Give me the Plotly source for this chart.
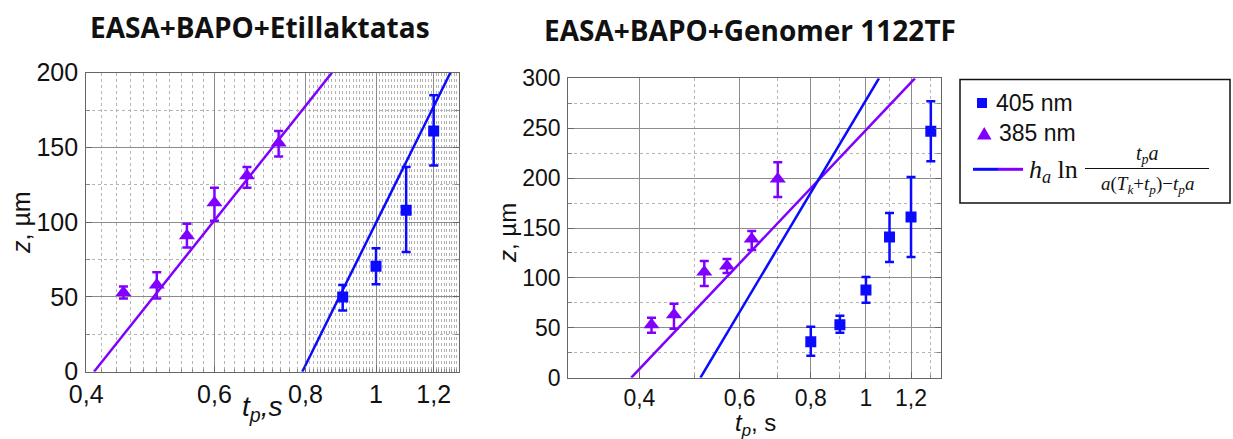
import plotly.graph_objects as go
import math

# ---------------- data ----------------
# Left panel: EASA+BAPO+Etillaktatas
L_tri_t = [0.45, 0.50, 0.55, 0.60, 0.665, 0.735]
L_tri_z = [53, 58, 91, 113, 131, 153]
L_tri_ep = [4, 8.5, 8, 10, 6, 8]
L_tri_em = [4, 9, 8, 12, 8, 9]

L_sq_t = [0.9, 1.0, 1.1, 1.2]
L_sq_z = [50, 70.5, 108, 161]
L_sq_ep = [8, 12, 29, 24]
L_sq_em = [9, 12, 28, 23]

L_fit385_t = [0.41, 0.87]
L_fit385_z = [0, 200]
L_fit405_t = [0.792, 1.265]
L_fit405_z = [0, 200]

# Right panel: EASA+BAPO+Genomer 1122TF
R_tri_t = [0.42, 0.46, 0.52, 0.57, 0.63, 0.70]
R_tri_z = [53, 63, 106, 112, 139, 199]
R_tri_ep = [7, 11, 11, 7, 8, 17]
R_tri_em = [8, 14, 14, 7, 11, 18]

R_sq_t = [0.8, 0.9, 1.0, 1.1, 1.2, 1.3]
R_sq_z = [36, 53, 88, 141, 161, 247]
R_sq_ep = [15, 9, 13, 24, 40, 30]
R_sq_em = [14, 8, 13, 25, 40, 30]

R_fit385_t = [0.387, 1.219]
R_fit385_z = [0, 300]
R_fit405_t = [0.512, 1.054]
R_fit405_z = [0, 300]

x_tickvals = [0.4, 0.6, 0.8, 1.0, 1.2]
x_ticktext = ["0,4", "0,6", "0,8", "1", "1,2"]
L_minor_x = [round(0.42 + 0.02 * i, 2) for i in range(19)] + [round(0.81 + 0.01 * i, 2) for i in range(49)]
L_minor_x = [v for v in L_minor_x if v not in (0.6, 0.8, 1.0, 1.2)]
R_minor_x = [0.3, 0.5, 0.7, 0.9, 1.1, 1.3]

BLUE = "#0a0aff"
PURPLE = "#8000ff"

W, H = 1233, 439
def px(x):
    return x / W
def py(y):
    return 1 - y / H

fig = go.Figure()

def add_panel(xa, ya, tri_t, tri_z, tri_ep, tri_em, sq_t, sq_z, sq_ep, sq_em,
              f385_t, f385_z, f405_t, f405_z, msize):
    fig.add_trace(go.Scatter(x=f385_t, y=f385_z, mode="lines", xaxis=xa, yaxis=ya,
                             line=dict(color=PURPLE, width=2.5), showlegend=False))
    fig.add_trace(go.Scatter(x=f405_t, y=f405_z, mode="lines", xaxis=xa, yaxis=ya,
                             line=dict(color=BLUE, width=2.5), showlegend=False))
    fig.add_trace(go.Scatter(x=tri_t, y=tri_z, mode="markers", xaxis=xa, yaxis=ya,
                             marker=dict(symbol="triangle-up", size=msize + 3, color=PURPLE),
                             error_y=dict(type="data", array=tri_ep, arrayminus=tri_em,
                                          color=PURPLE, thickness=2.5, width=4.5),
                             showlegend=False))
    fig.add_trace(go.Scatter(x=sq_t, y=sq_z, mode="markers", xaxis=xa, yaxis=ya,
                             marker=dict(symbol="square", size=msize, color=BLUE),
                             error_y=dict(type="data", array=sq_ep, arrayminus=sq_em,
                                          color=BLUE, thickness=2.5, width=4.5),
                             showlegend=False))

add_panel("x", "y", L_tri_t, L_tri_z, L_tri_ep, L_tri_em, L_sq_t, L_sq_z, L_sq_ep, L_sq_em,
          L_fit385_t, L_fit385_z, L_fit405_t, L_fit405_z, 11)
add_panel("x2", "y2", R_tri_t, R_tri_z, R_tri_ep, R_tri_em, R_sq_t, R_sq_z, R_sq_ep, R_sq_em,
          R_fit385_t, R_fit385_z, R_fit405_t, R_fit405_z, 11)

GRID = "#8c8c8c"
MINOR = "#b4b4b4"
TICKFONT = "Liberation Sans"

def xaxis_cfg(domain, rng, minor_vals, fsize, anchor):
    return dict(type="log", domain=domain, range=[math.log10(rng[0]), math.log10(rng[1])],
                anchor=anchor, automargin=False,
                tickmode="array", tickvals=x_tickvals, ticktext=x_ticktext,
                tickfont=dict(family=TICKFONT, size=fsize, color="#111"),
                showgrid=True, gridcolor=GRID, gridwidth=1,
                showline=True, linecolor="#666", linewidth=1.2, mirror=True,
                ticks="inside", ticklen=6, tickcolor="#666",
                minor=dict(tickmode="array", tickvals=minor_vals, showgrid=True,
                           gridcolor=MINOR, griddash="dot", gridwidth=1,
                           ticks="inside", ticklen=3, tickcolor="#888"),
                zeroline=False, fixedrange=True)

def yaxis_cfg(domain, rng, dtick, anchor, fsize):
    return dict(domain=domain, range=rng, tickmode="linear", tick0=0, dtick=dtick,
                anchor=anchor, automargin=False,
                tickfont=dict(family=TICKFONT, size=fsize, color="#111"),
                showgrid=True, gridcolor=GRID, gridwidth=1,
                showline=True, linecolor="#666", linewidth=1.2, mirror="allticks",
                ticks="inside", ticklen=6, tickcolor="#666",
                minor=dict(dtick=dtick / 2, showgrid=True, gridcolor=MINOR,
                           griddash="dot", gridwidth=1, ticks="inside", ticklen=4,
                           tickcolor="#888"),
                zeroline=False, fixedrange=True, ticklabelstandoff=2)

fig.update_layout(
    width=W, height=H, margin=dict(l=0, r=0, t=0, b=0, autoexpand=False),
    paper_bgcolor="white", plot_bgcolor="white", showlegend=False,
    xaxis=xaxis_cfg([px(86.2), px(459)], [0.4, 1.30], L_minor_x, 25, "y"),
    yaxis=yaxis_cfg([py(371.7), py(72.7)], [0, 200], 50, "x", 25),
    xaxis2=xaxis_cfg([px(568.3), px(940.7)], [0.3, 1.353], R_minor_x, 23, "y2"),
    yaxis2=yaxis_cfg([py(377.7), py(78.3)], [0, 300], 50, "x2", 23),
)

ann = []
TITLEFONT = dict(family="Open Sans", size=28, color="#111")
ann.append(dict(x=px(260), y=py(27), text="<b>EASA+BAPO+Etillaktatas</b>", font=TITLEFONT))
ann.append(dict(x=px(750), y=py(30), text="<b>EASA+BAPO+Genomer 1122TF</b>", font=TITLEFONT))
ann.append(dict(x=px(21), y=py(223), text="<i>z</i>, µm", textangle=-90,
                font=dict(family=TICKFONT, size=25, color="#111")))
ann.append(dict(x=px(507), y=py(233), text="<i>z</i>, µm", textangle=-90,
                font=dict(family=TICKFONT, size=24, color="#111")))
ann.append(dict(x=px(262), y=py(408), text="<i>t<sub>p</sub>,s</i>",
                font=dict(family=TICKFONT, size=28, color="#111")))
ann.append(dict(x=px(755), y=py(424), text="<i>t<sub>p</sub></i>, s",
                font=dict(family=TICKFONT, size=24, color="#111")))

# legend (manual)
LEGF = dict(family=TICKFONT, size=23, color="#111")
ann.append(dict(x=px(994), y=py(103), text="405 nm", xanchor="left", font=LEGF))
ann.append(dict(x=px(997), y=py(133), text="385 nm", xanchor="left", font=LEGF))
SERIF = "Liberation Serif"
ann.append(dict(x=px(1027), y=py(171), text="<i>h<sub>a</sub></i> ln", xanchor="left",
                font=dict(family=SERIF, size=26, color="#111")))
ann.append(dict(x=px(1147), y=py(154), text="<i>t<sub>p</sub>a</i>",
                font=dict(family=SERIF, size=20, color="#111")))
ann.append(dict(x=px(1147), y=py(185), text="<i>a</i>(<i>T<sub>k</sub></i>+<i>t<sub>p</sub></i>)−<i>t<sub>p</sub>a</i>",
                font=dict(family=SERIF, size=19, color="#111")))
for a in ann:
    a.update(xref="paper", yref="paper", showarrow=False)
    a.setdefault("xanchor", "center")
    a.setdefault("yanchor", "middle")
fig.update_layout(annotations=ann)

shapes = []
shapes.append(dict(type="rect", x0=px(960), x1=px(1230), y0=py(79.5), y1=py(203),
                   line=dict(color="#111", width=1.5)))
shapes.append(dict(type="rect", x0=px(977), x1=px(987), y0=py(98), y1=py(108),
                   fillcolor=BLUE, line=dict(width=0)))
shapes.append(dict(type="path",
                   path=f"M {px(977)},{py(139.5)} L {px(991.5)},{py(139.5)} L {px(984.25)},{py(127)} Z",
                   fillcolor=PURPLE, line=dict(width=0)))
shapes.append(dict(type="line", x0=px(973), x1=px(998), y0=py(169.3), y1=py(169.3),
                   line=dict(color=BLUE, width=3)))
shapes.append(dict(type="line", x0=px(998), x1=px(1023), y0=py(169.3), y1=py(169.3),
                   line=dict(color=PURPLE, width=3)))
shapes.append(dict(type="line", x0=px(1085), x1=px(1209), y0=py(168.5), y1=py(168.5),
                   line=dict(color="#111", width=1)))
for s in shapes:
    s.update(xref="paper", yref="paper")
fig.update_layout(shapes=shapes)

fig.write_html("out.html")
